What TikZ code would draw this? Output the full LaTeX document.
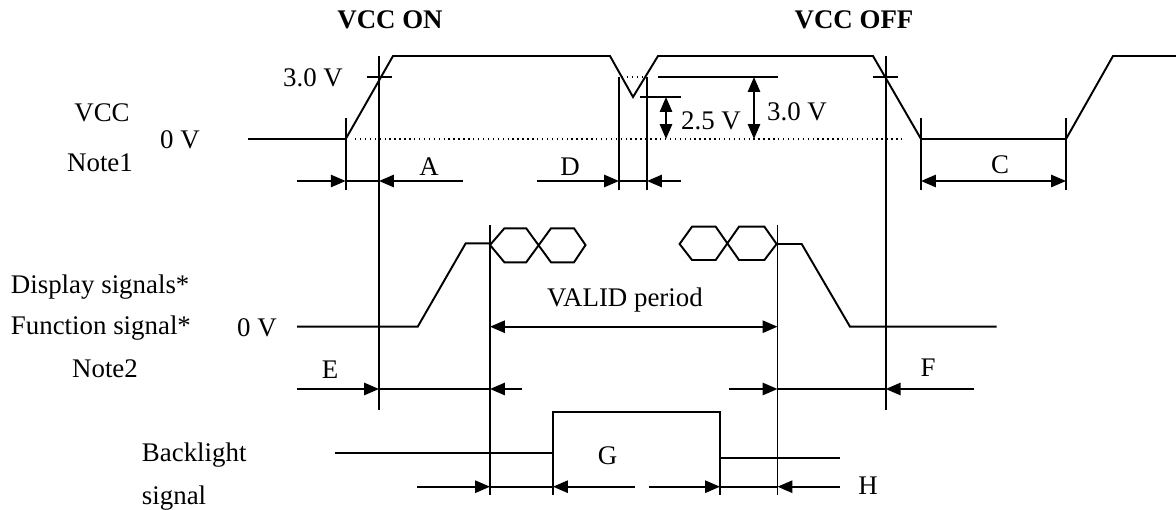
\documentclass[tikz,border=0pt]{standalone}
\usepackage{fontspec}
\setmainfont{Liberation Serif}
\usetikzlibrary{arrows.meta}

\begin{document}
\begin{tikzpicture}[x=0.02cm,y=-0.02cm,>={Triangle[length=8.5pt,width=7pt]},line width=1.1pt]
  \tikzstyle{guide}=[line width=1pt]
  \tikzstyle{level}=[dotted,line width=0.8pt]
  \tikzstyle{lbl}=[inner sep=0pt,font=\fontsize{15.3}{18}\selectfont]
  \tikzstyle{title}=[lbl,font=\bfseries\fontsize{15.3}{18}\selectfont]
  \useasboundingbox (0,0) rectangle (1176,510);

  % VCC
  \begin{scope}
    \draw (248,139) -- (345.7,139) -- (393,56) -- (610,56) -- (633,97) -- (658,56)
      -- (873,56) -- (921,139) -- (1066,139) -- (1113,56) -- (1176,56);
    \draw [level] (355,139) -- (905,139);
    \draw [level] (622,77) -- (645,77);
    \draw (366.7,77) -- (392,77);
    \draw (873,77) -- (898,77);
    \draw (640,97) -- (681,97);
    \draw (658,77) -- (778,77);
    \draw [<->] (666,97) -- (666,139);
    \draw [<->] (754,77) -- (754,139);
    \draw [guide] (345.7,118) -- (345.7,190);
    \draw [guide] (619,77) -- (619,190);
    \draw [guide] (647,77) -- (647,190);
    \draw [guide] (921,118) -- (921,190);
    \draw [guide] (1066,118) -- (1066,190);
    % A, D, C
    \draw [->] (297,181) -- (345.7,181);
    \draw (345.7,181) -- (379,181);
    \draw [->] (463,181) -- (379,181);
    \draw [->] (537,181) -- (619,181);
    \draw (619,181) -- (647,181);
    \draw [->] (681,181) -- (647,181);
    \draw [<->] (921,181) -- (1066,181);
    \node [title] (on) at (390,20) {VCC ON};
    \node [title] (off) at (854,20) {VCC OFF};
    \node [lbl] (v30a) at (313,78) {3.0 V};
    \node [lbl] (vcc) at (102,113) {VCC};
    \node [lbl] (zero1) at (180,140) {0 V};
    \node [lbl] (note1) at (100,163) {Note1};
    \node [lbl] (a) at (429,167) {A};
    \node [lbl] (d) at (570,167) {D};
    \node [lbl] (c) at (1000,165) {C};
    \node [lbl] (v25) at (711,121) {2.5 V};
    \node [lbl] (v30b) at (797,112) {3.0 V};
  \end{scope}

  % long guide lines
  \draw [guide] (379,56) -- (379,410);
  \draw [guide] (885.7,56) -- (885.7,410);
  \draw [guide] (490,225) -- (490,495);
  \draw [guide] (777.5,225) -- (777.5,495);

  % display and function signals
  \begin{scope}
    \draw (297,326.7) -- (417.7,326.7) -- (465.7,243.3) -- (490,243.3);
    \draw (490,245) -- (504.4,228.3) -- (526.2,228.3) -- (551,262.3) -- (574,262.3) -- (585.5,245)
      -- (574,228.3) -- (551,228.3) -- (526.2,262.3) -- (504.4,262.3) -- cycle;
    \draw (679.6,244) -- (692,226.7) -- (715.7,226.7) -- (739,260) -- (764.4,260) -- (776.6,244)
      -- (764.4,226.7) -- (739,226.7) -- (715.7,260) -- (692,260) -- cycle;
    \draw (777.5,244) -- (801.7,244) -- (850,326.7) -- (996.7,326.7);
    \draw [<->] (490,326.7) -- (777.5,326.7);
    % E, F
    \draw [->] (297,389) -- (379,389);
    \draw (379,389) -- (490,389);
    \draw [->] (522,389) -- (490,389);
    \draw [->] (729,389) -- (777.5,389);
    \draw (777.5,389) -- (885.7,389);
    \draw [->] (974,389) -- (885.7,389);
    \node [lbl,anchor=west] (disp) at (10,287) {Display signals*};
    \node [lbl,anchor=west] (func) at (10,328) {Function signal*};
    \node [lbl] (zero2) at (257,328) {0 V};
    \node [lbl] (note2) at (105,369) {Note2};
    \node [lbl] (valid) at (625,300) {VALID period};
    \node [lbl] (e) at (330,370) {E};
    \node [lbl] (f) at (928,368) {F};
  \end{scope}

  % backlight
  \begin{scope}
    \draw (334.7,453.3) -- (553,453.3) -- (553,412.3) -- (720,412.3) -- (720,457.7) -- (840,457.7);
    \draw [guide] (553,412.3) -- (553,495);
    \draw [guide] (720,412.3) -- (720,495);
    \draw [->] (417,486.7) -- (490,486.7);
    \draw (490,486.7) -- (553,486.7);
    \draw [->] (634.7,486.7) -- (553,486.7);
    \draw [->] (648.5,486.7) -- (720,486.7);
    \draw (720,486.7) -- (777.5,486.7);
    \draw [->] (840,486.7) -- (777.5,486.7);
    \node [lbl,anchor=west] (back) at (141,455) {Backlight};
    \node [lbl,anchor=west] (sig) at (141,498) {signal};
    \node [lbl] (g) at (607.6,456) {G};
    \node [lbl] (h) at (868,486) {H};
  \end{scope}
\end{tikzpicture}
\end{document}
